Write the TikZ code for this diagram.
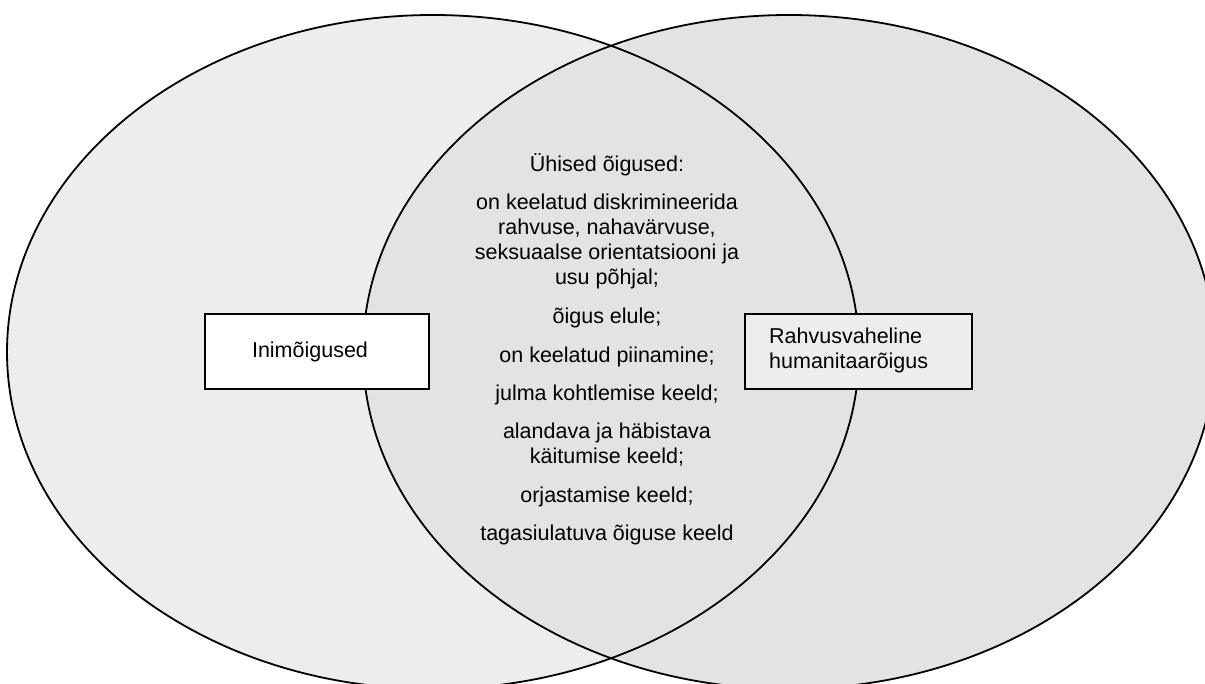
\documentclass[tikz,border=0pt]{standalone}
\usepackage{fontspec}
\setmainfont{Liberation Sans}
\definecolor{lgray}{HTML}{EDEDED}
\definecolor{rgray}{HTML}{E3E3E3}
\definecolor{boxgray}{HTML}{EDEDED}
\begin{document}
\begin{tikzpicture}[x=1pt,y=1pt,
  outline/.style={draw=black,line width=1.8pt},
  labelbox/.style={draw=black,line width=2.2pt,minimum height=75pt,inner sep=0pt},
  txt/.style={font=\fontsize{21.5}{25}\selectfont,inner sep=0pt}]
\useasboundingbox (0,0) rectangle (1205,683);
\begin{scope}
  \clip (0,0) rectangle (1205,683);
  \fill[lgray] (433,331) ellipse [x radius=426, y radius=337];
  \fill[rgray] (789,331) ellipse [x radius=426, y radius=337];
  \draw[outline] (433,331) ellipse [x radius=426, y radius=337];
  \draw[outline] (789,331) ellipse [x radius=426, y radius=337];
\end{scope}
\node[labelbox, fill=white, minimum width=224pt] (hrbox) at (317,331.5) {};
\node[txt] (hrtext) at (310,331) {Inimõigused};
\node[labelbox, fill=boxgray, minimum width=227pt] (ihlbox) at (858.5,331.5) {};
\node[txt, align=left, anchor=west] (ihltext) at (769,333) {Rahvusvaheline\\humanitaarõigus};
\node[txt, align=center] (common) at (607,334) {%
Ühised õigused:\\[13.5pt]
on keelatud diskrimineerida\\
rahvuse, nahavärvuse,\\
seksuaalse orientatsiooni ja\\
usu põhjal;\\[14pt]
õigus elule;\\[13.5pt]
on keelatud piinamine;\\[13pt]
julma kohtlemise keeld;\\[13pt]
alandava ja häbistava\\
käitumise keeld;\\[14pt]
orjastamise keeld;\\[13pt]
tagasiulatuva õiguse keeld};
\end{tikzpicture}
\end{document}
